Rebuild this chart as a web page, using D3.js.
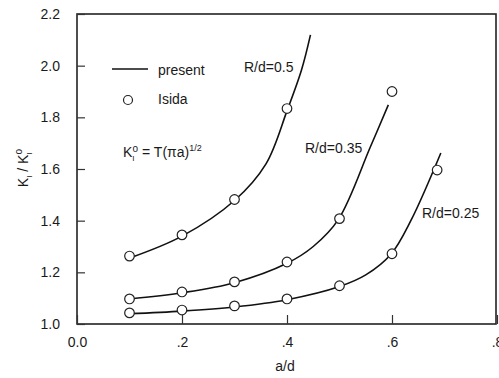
<!DOCTYPE html>
<html>
<head>
<meta charset="utf-8">
<script src="https://cdn.jsdelivr.net/npm/d3@7"></script>
<style>
body{margin:0;background:#fff;}
svg{display:block;font-family:"Liberation Sans",Arial,sans-serif;}
</style>
</head>
<body>
<svg id="chart" width="499" height="378"></svg>
<script>
// Isida reference points
const isidaX05 = [0.1, 0.2, 0.3, 0.4];
const isidaY05 = [1.263, 1.345, 1.482, 1.834];
const isidaX035 = [0.1, 0.2, 0.3, 0.4, 0.5, 0.6];
const isidaY035 = [1.097, 1.124, 1.163, 1.240, 1.408, 1.900];
const isidaX025 = [0.1, 0.2, 0.3, 0.4, 0.5, 0.6, 0.686];
const isidaY025 = [1.043, 1.054, 1.070, 1.097, 1.148, 1.272, 1.596];

// present solution curves
const curveX05 = [0.1, 0.2, 0.3, 0.36, 0.4, 0.4276, 0.4447];
const curveY05 = [1.255, 1.340, 1.478, 1.620, 1.825, 1.983, 2.119];
const curveX035 = [0.1, 0.2, 0.3, 0.4, 0.45, 0.498, 0.5587, 0.593];
const curveY035 = [1.097, 1.121, 1.160, 1.235, 1.300, 1.405, 1.685, 1.848];
const curveX025 = [0.1, 0.2, 0.3, 0.4, 0.5, 0.55, 0.598, 0.6366, 0.693];
const curveY025 = [1.040, 1.050, 1.066, 1.094, 1.145, 1.190, 1.270, 1.403, 1.662];

const xTicks = [0.0, 0.2, 0.4, 0.6, 0.8];
const xTickLabels = ["0.0", ".2", ".4", ".6", ".8"];
const yTicks = [1.0, 1.2, 1.4, 1.6, 1.8, 2.0, 2.2];
const yTickLabels = ["1.0", "1.2", "1.4", "1.6", "1.8", "2.0", "2.2"];

const svg = d3.select("#chart");
const x = d3.scaleLinear().domain([0, 0.8]).range([77, 497]);
const y = d3.scaleLinear().domain([1.0, 2.2]).range([324, 14]);

// frame
svg.append("rect").attr("x", 77).attr("y", 14).attr("width", 419).attr("height", 310)
  .attr("fill", "none").attr("stroke", "#222").attr("stroke-width", 1.6);

// axes with inward ticks
const xAxis = d3.axisBottom(x).tickValues(xTicks).tickSize(-9)
  .tickFormat((d, i) => xTickLabels[i]).tickPadding(13);
const gx = svg.append("g").attr("transform", "translate(0,324)").call(xAxis);
const yAxis = d3.axisLeft(y).tickValues(yTicks).tickSize(-8)
  .tickFormat((d, i) => yTickLabels[i]).tickPadding(17);
const gy = svg.append("g").attr("transform", "translate(77,0)").call(yAxis);
[gx, gy].forEach(g => {
  g.select(".domain").remove();
  g.selectAll(".tick line").attr("stroke", "#333").attr("stroke-width", 1.2);
  g.selectAll(".tick text").attr("font-size", 14).attr("fill", "#1a1a1a")
    .attr("font-family", "Liberation Sans, Arial, sans-serif");
});

// curves
const line = d3.line().x(d => x(d[0])).y(d => y(d[1])).curve(d3.curveCatmullRom.alpha(0.5));
[[curveX05, curveY05], [curveX035, curveY035], [curveX025, curveY025]].forEach(([xs, ys]) => {
  svg.append("path").datum(xs.map((v, i) => [v, ys[i]]))
    .attr("d", line).attr("fill", "none").attr("stroke", "#111").attr("stroke-width", 1.6);
});

// Isida circles
[[isidaX05, isidaY05], [isidaX035, isidaY035], [isidaX025, isidaY025]].forEach(([xs, ys]) => {
  svg.append("g").selectAll("circle").data(xs.map((v, i) => [v, ys[i]])).join("circle")
    .attr("cx", d => x(d[0])).attr("cy", d => y(d[1])).attr("r", 4.8)
    .attr("fill", "#fff").attr("stroke", "#222").attr("stroke-width", 1.2);
});

// legend
svg.append("line").attr("x1", 112).attr("x2", 148).attr("y1", 69).attr("y2", 69)
  .attr("stroke", "#111").attr("stroke-width", 1.6);
svg.append("text").attr("x", 158).attr("y", 75).attr("font-size", 14).attr("fill", "#1a1a1a").text("present");
svg.append("circle").attr("cx", 128).attr("cy", 100).attr("r", 4.5)
  .attr("fill", "#fff").attr("stroke", "#222").attr("stroke-width", 1.2);
svg.append("text").attr("x", 158).attr("y", 104).attr("font-size", 14).attr("fill", "#1a1a1a").text("Isida");

// formula
const f = svg.append("text").attr("x", 123).attr("y", 157).attr("font-size", 14).attr("fill", "#1a1a1a");
f.append("tspan").text("K");
f.append("tspan").attr("font-size", 8).attr("dy", 4).text("I");
f.append("tspan").attr("font-size", 10).attr("dy", -9).attr("dx", -2).text("o");
f.append("tspan").attr("dy", 5).text(" = T(πa)");
f.append("tspan").attr("font-size", 9).attr("dy", -6).text("1/2");

// curve labels
svg.append("text").attr("x", 244).attr("y", 72).attr("font-size", 14).attr("fill", "#1a1a1a").text("R/d=0.5");
svg.append("text").attr("x", 305).attr("y", 153).attr("font-size", 14).attr("fill", "#1a1a1a").text("R/d=0.35");
svg.append("text").attr("x", 422).attr("y", 218).attr("font-size", 14).attr("fill", "#1a1a1a").text("R/d=0.25");

// axis titles
svg.append("text").attr("x", 285).attr("y", 371).attr("text-anchor", "middle")
  .attr("font-size", 14).attr("fill", "#1a1a1a").text("a/d");
const yl = svg.append("text").attr("transform", "translate(28,168) rotate(-90)")
  .attr("text-anchor", "middle").attr("font-size", 14).attr("fill", "#1a1a1a");
yl.append("tspan").text("K");
yl.append("tspan").attr("font-size", 8).attr("dy", 4).text("I");
yl.append("tspan").attr("dy", -4).text(" / K");
yl.append("tspan").attr("font-size", 8).attr("dy", 4).text("I");
yl.append("tspan").attr("font-size", 10).attr("dy", -10).attr("dx", -2).text("o");
</script>
</body>
</html>
